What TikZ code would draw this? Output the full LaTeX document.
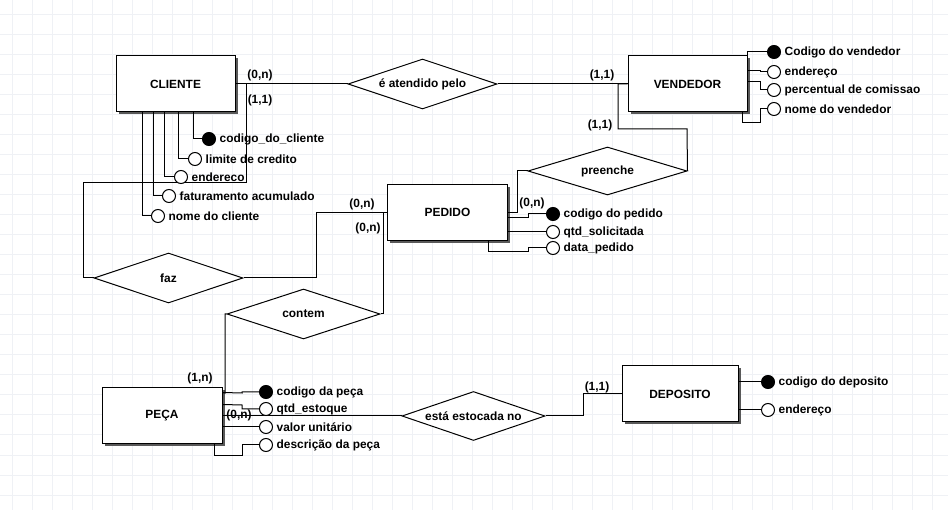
\documentclass[tikz,border=0pt]{standalone}
\usepackage{fontspec}
\setmainfont{Liberation Sans}
\usetikzlibrary{shapes.geometric,shadows}
\definecolor{gridc}{HTML}{EFF1F5}
\tikzset{
  entity/.style={draw, fill=white, line width=1pt, minimum height=56pt, inner sep=0pt,
    drop shadow={shadow xshift=2.5pt, shadow yshift=-2.5pt, fill=black!65, opacity=1}},
  relation/.style={diamond, draw, fill=white, line width=1pt, inner sep=0pt, shape aspect=3},
  attr/.style={circle, draw, fill=white, line width=1pt, minimum size=13pt, inner sep=0pt},
  keyattr/.style={attr, fill=black},
  attrtext/.style={anchor=west, inner sep=0pt, xshift=3.5pt},
  card/.style={inner sep=0pt},
  conn/.style={line width=1pt}
}
\begin{document}
\begin{tikzpicture}[x=1pt, y=-1pt, font=\fontsize{11.9}{13}\selectfont\bfseries]
\useasboundingbox (0,0) rectangle (948,510);
\fill[white] (0,0) rectangle (948,510);
\foreach \gx in {12,32,...,948} \draw[gridc, line width=1pt] (\gx,0) -- (\gx,510);
\foreach \gy in {15,35,...,510} \draw[gridc, line width=1pt] (0,\gy) -- (948,\gy);

% entities
\node[entity, minimum width=119pt] (cliente) at (175.5,84) {CLIENTE};
\node[entity, minimum width=119pt] (vendedor) at (687.5,84) {VENDEDOR};
\node[entity, minimum width=120pt] (pedido) at (447.5,212.5) {PEDIDO};
\node[entity, minimum width=120pt] (peca) at (162,416) {PEÇA};
\node[entity, minimum width=116pt] (deposito) at (680,394) {DEPOSITO};

% relationships
\node[relation, minimum width=149pt, minimum height=50pt] (atende) at (422.5,84) {é atendido pelo};
\node[relation, minimum width=159pt, minimum height=48pt] (preenche) at (607.5,171) {preenche};
\node[relation, minimum width=149pt, minimum height=50pt] (faz) at (168.5,278) {faz};
\node[relation, minimum width=153pt, minimum height=50pt] (contem) at (303.5,314) {contem};
\node[relation, minimum width=143pt, minimum height=49pt] (estocada) at (473.5,416) {está estocada no};

% connectors between entities and relationships
\draw[conn] (cliente.east) -- (atende.west);
\draw[conn] (cliente.east) -- (246,84) |- (83,183) |- (faz.west);
\draw[conn] (atende.east) -- (vendedor.west);
\draw[conn] (vendedor.west) -- (618,84) |- (687,129) -- (preenche.east);
\draw[conn] (preenche.west) -- (517,171) |- (pedido.east);
\draw[conn] (faz.east) -| (316,212.5) -- (pedido.west);
\draw[conn] (contem.east) -| (383,212.5) -- (pedido.west);
\draw[conn] (contem.west) -| (225,393) -- ([yshift=-5pt]peca.north east);
\draw[conn] (peca.east) -- (estocada.west);
\draw[conn] (estocada.east) -| (583,394) -- (deposito.west);

% cardinalities
\node[card] (c1) at (260,75) {(0,n)};
\node[card] (c2) at (260,100) {(1,1)};
\node[card] (c3) at (602,75) {(1,1)};
\node[card] (c4) at (600,125) {(1,1)};
\node[card] (c5) at (362,204) {(0,n)};
\node[card] (c6) at (368,228) {(0,n)};
\node[card] (c7) at (532,203) {(0,n)};
\node[card] (c8) at (200,378) {(1,n)};
\node[card] (c9) at (239,415) {(0,n)};
\node[card] (c10) at (597,387) {(1,1)};

% CLIENTE attributes
\node[keyattr] (ca1) at (209,139) {};
\node[attrtext] at (ca1.east) {codigo\_do\_cliente};
\node[attr] (ca2) at (195,159) {};
\node[attrtext] at (ca2.east) {limite de credito};
\node[attr] (ca3) at (181,177) {};
\node[attrtext] at (ca3.east) {endereco};
\node[attr] (ca4) at (169,196) {};
\node[attrtext] at (ca4.east) {faturamento acumulado};
\node[attr] (ca5) at (158,216) {};
\node[attrtext] at (ca5.east) {nome do cliente};
\draw[conn] ([xshift=17.5pt]cliente.south) |- (ca1.west);
\draw[conn] ([xshift=2.5pt]cliente.south) |- (ca2.west);
\draw[conn] ([xshift=-11.5pt]cliente.south) |- (ca3.west);
\draw[conn] ([xshift=-22.5pt]cliente.south) |- (ca4.west);
\draw[conn] ([xshift=-33.5pt]cliente.south) |- (ca5.west);

% VENDEDOR attributes
\node[keyattr] (va1) at (774,52) {};
\node[attrtext] at (va1.east) {Codigo do vendedor};
\node[attr] (va2) at (774,72) {};
\node[attrtext] at (va2.east) {endereço};
\node[attr] (va3) at (774,90) {};
\node[attrtext] at (va3.east) {percentual de comissao};
\node[attr] (va4) at (774,109) {};
\node[attrtext] at (va4.east) {nome do vendedor};
\draw[conn] (vendedor.north east) |- (va1.west);
\draw[conn] ([yshift=13pt]vendedor.east) -- (760,71) |- (va2.west);
\draw[conn] ([yshift=2pt]vendedor.east) -- (760,82) |- (va3.west);
\draw[conn] ([xshift=-5pt]vendedor.south east) |- (760,123) |- (va4.west);

% PEDIDO attributes
\node[keyattr] (pa1) at (553,214) {};
\node[attrtext] at (pa1.east) {codigo do pedido};
\node[attr] (pa2) at (553,232) {};
\node[attrtext] at (pa2.east) {qtd\_solicitada};
\node[attr] (pa3) at (553,248) {};
\node[attrtext] at (pa3.east) {data\_pedido};
\draw[conn] ([yshift=-5.5pt]pedido.east) -- (528,218) |- (pa1.west);
\draw[conn] ([yshift=-19.5pt]pedido.east) -- (pa2.west);
\draw[conn] ([xshift=-19.5pt]pedido.south east) |- (528,252) |- (pa3.west);

% PECA attributes
\node[keyattr] (ea1) at (266,392) {};
\node[attrtext] at (ea1.east) {codigo da peça};
\node[attr] (ea2) at (266,409) {};
\node[attrtext] at (ea2.east) {qtd\_estoque};
\node[attr] (ea3) at (266,427) {};
\node[attrtext] at (ea3.east) {valor unitário};
\node[attr] (ea4) at (266,445) {};
\node[attrtext] at (ea4.east) {descrição da peça};
\draw[conn] ([yshift=-5pt]peca.north east) -- (242,393) |- (ea1.west);
\draw[conn] ([yshift=-17pt]peca.north east) -- (242,405) |- (ea2.west);
\draw[conn] ([yshift=-11pt]peca.east) -- (ea3.west);
\draw[conn] ([xshift=-8pt]peca.south east) |- (242,455) |- (ea4.west);

% DEPOSITO attributes
\node[keyattr] (da1) at (768,382) {};
\node[attrtext] at (da1.east) {codigo do deposito};
\node[attr] (da2) at (768,410) {};
\node[attrtext] at (da2.east) {endereço};
\draw[conn] ([yshift=12pt]deposito.east) -- (da1.west);
\draw[conn] ([yshift=-16pt]deposito.east) -- (da2.west);
\end{tikzpicture}
\end{document}
